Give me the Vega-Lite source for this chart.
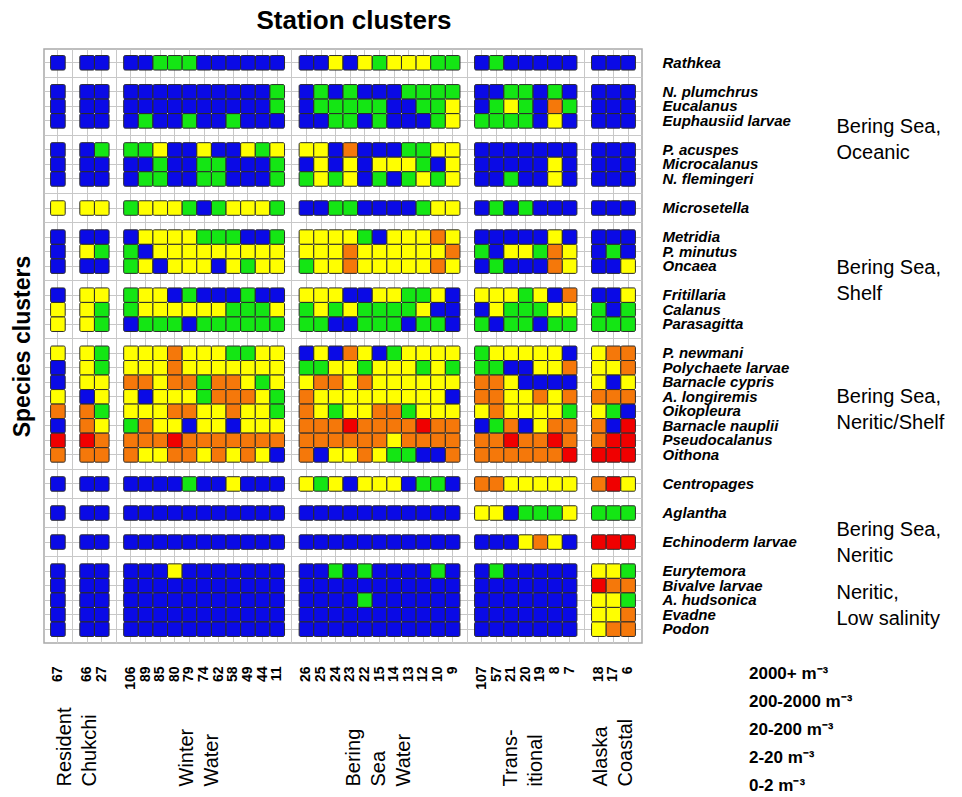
{
"$schema": "https://vega.github.io/schema/vega-lite/v6.json",
"autosize": {"type": "none"},
"padding": {"left": 44, "top": 49, "right": 320, "bottom": 154},
"width": 598,
"height": 594,
"config": {"font": "Liberation Sans", "view": {"stroke": "#a9a9a9", "strokeWidth": 1.5}},
"title": {"text": "Station clusters", "fontSize": 26, "fontWeight": "bold", "color": "black", "anchor": "middle", "frame": "group", "offset": 15, "dx": 11},
"data": {"values": [
{"sp":"Rathkea","st":"67","d":"0-2"},{"sp":"Rathkea","st":"66","d":"0-2"},{"sp":"Rathkea","st":"27","d":"0-2"},
{"sp":"Rathkea","st":"106","d":"0-2"},{"sp":"Rathkea","st":"89","d":"0-2"},{"sp":"Rathkea","st":"85","d":"2-20"},{"sp":"Rathkea","st":"80","d":"2-20"},{"sp":"Rathkea","st":"79","d":"2-20"},{"sp":"Rathkea","st":"74","d":"0-2"},{"sp":"Rathkea","st":"62","d":"0-2"},{"sp":"Rathkea","st":"58","d":"0-2"},{"sp":"Rathkea","st":"49","d":"0-2"},{"sp":"Rathkea","st":"44","d":"0-2"},{"sp":"Rathkea","st":"11","d":"0-2"},
{"sp":"Rathkea","st":"26","d":"0-2"},{"sp":"Rathkea","st":"25","d":"0-2"},{"sp":"Rathkea","st":"24","d":"20-200"},{"sp":"Rathkea","st":"23","d":"0-2"},{"sp":"Rathkea","st":"22","d":"20-200"},{"sp":"Rathkea","st":"15","d":"2-20"},{"sp":"Rathkea","st":"14","d":"20-200"},{"sp":"Rathkea","st":"13","d":"20-200"},{"sp":"Rathkea","st":"12","d":"20-200"},{"sp":"Rathkea","st":"10","d":"2-20"},{"sp":"Rathkea","st":"9","d":"2-20"},
{"sp":"Rathkea","st":"107","d":"0-2"},{"sp":"Rathkea","st":"57","d":"2-20"},{"sp":"Rathkea","st":"21","d":"0-2"},{"sp":"Rathkea","st":"20","d":"0-2"},{"sp":"Rathkea","st":"19","d":"0-2"},{"sp":"Rathkea","st":"8","d":"0-2"},{"sp":"Rathkea","st":"7","d":"0-2"},
{"sp":"Rathkea","st":"18","d":"0-2"},{"sp":"Rathkea","st":"17","d":"0-2"},{"sp":"Rathkea","st":"6","d":"0-2"},

{"sp":"N. plumchrus","st":"67","d":"0-2"},{"sp":"N. plumchrus","st":"66","d":"0-2"},{"sp":"N. plumchrus","st":"27","d":"0-2"},
{"sp":"N. plumchrus","st":"106","d":"0-2"},{"sp":"N. plumchrus","st":"89","d":"0-2"},{"sp":"N. plumchrus","st":"85","d":"0-2"},{"sp":"N. plumchrus","st":"80","d":"0-2"},{"sp":"N. plumchrus","st":"79","d":"0-2"},{"sp":"N. plumchrus","st":"74","d":"0-2"},{"sp":"N. plumchrus","st":"62","d":"0-2"},{"sp":"N. plumchrus","st":"58","d":"0-2"},{"sp":"N. plumchrus","st":"49","d":"0-2"},{"sp":"N. plumchrus","st":"44","d":"0-2"},{"sp":"N. plumchrus","st":"11","d":"2-20"},
{"sp":"N. plumchrus","st":"26","d":"0-2"},{"sp":"N. plumchrus","st":"25","d":"2-20"},{"sp":"N. plumchrus","st":"24","d":"0-2"},{"sp":"N. plumchrus","st":"23","d":"2-20"},{"sp":"N. plumchrus","st":"22","d":"0-2"},{"sp":"N. plumchrus","st":"15","d":"0-2"},{"sp":"N. plumchrus","st":"14","d":"0-2"},{"sp":"N. plumchrus","st":"13","d":"2-20"},{"sp":"N. plumchrus","st":"12","d":"2-20"},{"sp":"N. plumchrus","st":"10","d":"2-20"},{"sp":"N. plumchrus","st":"9","d":"2-20"},
{"sp":"N. plumchrus","st":"107","d":"0-2"},{"sp":"N. plumchrus","st":"57","d":"0-2"},{"sp":"N. plumchrus","st":"21","d":"2-20"},{"sp":"N. plumchrus","st":"20","d":"2-20"},{"sp":"N. plumchrus","st":"19","d":"0-2"},{"sp":"N. plumchrus","st":"8","d":"2-20"},{"sp":"N. plumchrus","st":"7","d":"0-2"},
{"sp":"N. plumchrus","st":"18","d":"0-2"},{"sp":"N. plumchrus","st":"17","d":"0-2"},{"sp":"N. plumchrus","st":"6","d":"0-2"},

{"sp":"Eucalanus","st":"67","d":"0-2"},{"sp":"Eucalanus","st":"66","d":"0-2"},{"sp":"Eucalanus","st":"27","d":"0-2"},
{"sp":"Eucalanus","st":"106","d":"0-2"},{"sp":"Eucalanus","st":"89","d":"0-2"},{"sp":"Eucalanus","st":"85","d":"0-2"},{"sp":"Eucalanus","st":"80","d":"0-2"},{"sp":"Eucalanus","st":"79","d":"0-2"},{"sp":"Eucalanus","st":"74","d":"0-2"},{"sp":"Eucalanus","st":"62","d":"0-2"},{"sp":"Eucalanus","st":"58","d":"0-2"},{"sp":"Eucalanus","st":"49","d":"0-2"},{"sp":"Eucalanus","st":"44","d":"0-2"},{"sp":"Eucalanus","st":"11","d":"2-20"},
{"sp":"Eucalanus","st":"26","d":"0-2"},{"sp":"Eucalanus","st":"25","d":"2-20"},{"sp":"Eucalanus","st":"24","d":"2-20"},{"sp":"Eucalanus","st":"23","d":"2-20"},{"sp":"Eucalanus","st":"22","d":"2-20"},{"sp":"Eucalanus","st":"15","d":"2-20"},{"sp":"Eucalanus","st":"14","d":"0-2"},{"sp":"Eucalanus","st":"13","d":"0-2"},{"sp":"Eucalanus","st":"12","d":"2-20"},{"sp":"Eucalanus","st":"10","d":"2-20"},{"sp":"Eucalanus","st":"9","d":"20-200"},
{"sp":"Eucalanus","st":"107","d":"0-2"},{"sp":"Eucalanus","st":"57","d":"2-20"},{"sp":"Eucalanus","st":"21","d":"20-200"},{"sp":"Eucalanus","st":"20","d":"2-20"},{"sp":"Eucalanus","st":"19","d":"0-2"},{"sp":"Eucalanus","st":"8","d":"200-2000"},{"sp":"Eucalanus","st":"7","d":"2-20"},
{"sp":"Eucalanus","st":"18","d":"0-2"},{"sp":"Eucalanus","st":"17","d":"0-2"},{"sp":"Eucalanus","st":"6","d":"0-2"},

{"sp":"Euphausiid larvae","st":"67","d":"0-2"},{"sp":"Euphausiid larvae","st":"66","d":"0-2"},{"sp":"Euphausiid larvae","st":"27","d":"0-2"},
{"sp":"Euphausiid larvae","st":"106","d":"0-2"},{"sp":"Euphausiid larvae","st":"89","d":"2-20"},{"sp":"Euphausiid larvae","st":"85","d":"0-2"},{"sp":"Euphausiid larvae","st":"80","d":"0-2"},{"sp":"Euphausiid larvae","st":"79","d":"2-20"},{"sp":"Euphausiid larvae","st":"74","d":"0-2"},{"sp":"Euphausiid larvae","st":"62","d":"0-2"},{"sp":"Euphausiid larvae","st":"58","d":"2-20"},{"sp":"Euphausiid larvae","st":"49","d":"0-2"},{"sp":"Euphausiid larvae","st":"44","d":"0-2"},{"sp":"Euphausiid larvae","st":"11","d":"0-2"},
{"sp":"Euphausiid larvae","st":"26","d":"0-2"},{"sp":"Euphausiid larvae","st":"25","d":"0-2"},{"sp":"Euphausiid larvae","st":"24","d":"2-20"},{"sp":"Euphausiid larvae","st":"23","d":"2-20"},{"sp":"Euphausiid larvae","st":"22","d":"0-2"},{"sp":"Euphausiid larvae","st":"15","d":"2-20"},{"sp":"Euphausiid larvae","st":"14","d":"0-2"},{"sp":"Euphausiid larvae","st":"13","d":"0-2"},{"sp":"Euphausiid larvae","st":"12","d":"0-2"},{"sp":"Euphausiid larvae","st":"10","d":"2-20"},{"sp":"Euphausiid larvae","st":"9","d":"20-200"},
{"sp":"Euphausiid larvae","st":"107","d":"2-20"},{"sp":"Euphausiid larvae","st":"57","d":"2-20"},{"sp":"Euphausiid larvae","st":"21","d":"2-20"},{"sp":"Euphausiid larvae","st":"20","d":"2-20"},{"sp":"Euphausiid larvae","st":"19","d":"0-2"},{"sp":"Euphausiid larvae","st":"8","d":"20-200"},{"sp":"Euphausiid larvae","st":"7","d":"0-2"},
{"sp":"Euphausiid larvae","st":"18","d":"0-2"},{"sp":"Euphausiid larvae","st":"17","d":"0-2"},{"sp":"Euphausiid larvae","st":"6","d":"0-2"},

{"sp":"P. acuspes","st":"67","d":"0-2"},{"sp":"P. acuspes","st":"66","d":"0-2"},{"sp":"P. acuspes","st":"27","d":"2-20"},
{"sp":"P. acuspes","st":"106","d":"2-20"},{"sp":"P. acuspes","st":"89","d":"2-20"},{"sp":"P. acuspes","st":"85","d":"20-200"},{"sp":"P. acuspes","st":"80","d":"0-2"},{"sp":"P. acuspes","st":"79","d":"0-2"},{"sp":"P. acuspes","st":"74","d":"20-200"},{"sp":"P. acuspes","st":"62","d":"0-2"},{"sp":"P. acuspes","st":"58","d":"0-2"},{"sp":"P. acuspes","st":"49","d":"20-200"},{"sp":"P. acuspes","st":"44","d":"2-20"},{"sp":"P. acuspes","st":"11","d":"20-200"},
{"sp":"P. acuspes","st":"26","d":"20-200"},{"sp":"P. acuspes","st":"25","d":"20-200"},{"sp":"P. acuspes","st":"24","d":"0-2"},{"sp":"P. acuspes","st":"23","d":"200-2000"},{"sp":"P. acuspes","st":"22","d":"0-2"},{"sp":"P. acuspes","st":"15","d":"0-2"},{"sp":"P. acuspes","st":"14","d":"0-2"},{"sp":"P. acuspes","st":"13","d":"2-20"},{"sp":"P. acuspes","st":"12","d":"2-20"},{"sp":"P. acuspes","st":"10","d":"20-200"},{"sp":"P. acuspes","st":"9","d":"20-200"},
{"sp":"P. acuspes","st":"107","d":"0-2"},{"sp":"P. acuspes","st":"57","d":"0-2"},{"sp":"P. acuspes","st":"21","d":"0-2"},{"sp":"P. acuspes","st":"20","d":"0-2"},{"sp":"P. acuspes","st":"19","d":"0-2"},{"sp":"P. acuspes","st":"8","d":"0-2"},{"sp":"P. acuspes","st":"7","d":"0-2"},
{"sp":"P. acuspes","st":"18","d":"0-2"},{"sp":"P. acuspes","st":"17","d":"0-2"},{"sp":"P. acuspes","st":"6","d":"0-2"},

{"sp":"Microcalanus","st":"67","d":"0-2"},{"sp":"Microcalanus","st":"66","d":"0-2"},{"sp":"Microcalanus","st":"27","d":"0-2"},
{"sp":"Microcalanus","st":"106","d":"0-2"},{"sp":"Microcalanus","st":"89","d":"0-2"},{"sp":"Microcalanus","st":"85","d":"2-20"},{"sp":"Microcalanus","st":"80","d":"0-2"},{"sp":"Microcalanus","st":"79","d":"0-2"},{"sp":"Microcalanus","st":"74","d":"2-20"},{"sp":"Microcalanus","st":"62","d":"2-20"},{"sp":"Microcalanus","st":"58","d":"0-2"},{"sp":"Microcalanus","st":"49","d":"0-2"},{"sp":"Microcalanus","st":"44","d":"0-2"},{"sp":"Microcalanus","st":"11","d":"2-20"},
{"sp":"Microcalanus","st":"26","d":"0-2"},{"sp":"Microcalanus","st":"25","d":"20-200"},{"sp":"Microcalanus","st":"24","d":"0-2"},{"sp":"Microcalanus","st":"23","d":"20-200"},{"sp":"Microcalanus","st":"22","d":"0-2"},{"sp":"Microcalanus","st":"15","d":"20-200"},{"sp":"Microcalanus","st":"14","d":"20-200"},{"sp":"Microcalanus","st":"13","d":"20-200"},{"sp":"Microcalanus","st":"12","d":"2-20"},{"sp":"Microcalanus","st":"10","d":"0-2"},{"sp":"Microcalanus","st":"9","d":"20-200"},
{"sp":"Microcalanus","st":"107","d":"0-2"},{"sp":"Microcalanus","st":"57","d":"0-2"},{"sp":"Microcalanus","st":"21","d":"0-2"},{"sp":"Microcalanus","st":"20","d":"0-2"},{"sp":"Microcalanus","st":"19","d":"0-2"},{"sp":"Microcalanus","st":"8","d":"20-200"},{"sp":"Microcalanus","st":"7","d":"0-2"},
{"sp":"Microcalanus","st":"18","d":"0-2"},{"sp":"Microcalanus","st":"17","d":"0-2"},{"sp":"Microcalanus","st":"6","d":"0-2"},

{"sp":"N. flemingeri","st":"67","d":"0-2"},{"sp":"N. flemingeri","st":"66","d":"0-2"},{"sp":"N. flemingeri","st":"27","d":"0-2"},
{"sp":"N. flemingeri","st":"106","d":"0-2"},{"sp":"N. flemingeri","st":"89","d":"2-20"},{"sp":"N. flemingeri","st":"85","d":"2-20"},{"sp":"N. flemingeri","st":"80","d":"0-2"},{"sp":"N. flemingeri","st":"79","d":"0-2"},{"sp":"N. flemingeri","st":"74","d":"2-20"},{"sp":"N. flemingeri","st":"62","d":"2-20"},{"sp":"N. flemingeri","st":"58","d":"0-2"},{"sp":"N. flemingeri","st":"49","d":"0-2"},{"sp":"N. flemingeri","st":"44","d":"0-2"},{"sp":"N. flemingeri","st":"11","d":"2-20"},
{"sp":"N. flemingeri","st":"26","d":"2-20"},{"sp":"N. flemingeri","st":"25","d":"20-200"},{"sp":"N. flemingeri","st":"24","d":"2-20"},{"sp":"N. flemingeri","st":"23","d":"20-200"},{"sp":"N. flemingeri","st":"22","d":"0-2"},{"sp":"N. flemingeri","st":"15","d":"2-20"},{"sp":"N. flemingeri","st":"14","d":"0-2"},{"sp":"N. flemingeri","st":"13","d":"2-20"},{"sp":"N. flemingeri","st":"12","d":"20-200"},{"sp":"N. flemingeri","st":"10","d":"2-20"},{"sp":"N. flemingeri","st":"9","d":"20-200"},
{"sp":"N. flemingeri","st":"107","d":"0-2"},{"sp":"N. flemingeri","st":"57","d":"0-2"},{"sp":"N. flemingeri","st":"21","d":"2-20"},{"sp":"N. flemingeri","st":"20","d":"0-2"},{"sp":"N. flemingeri","st":"19","d":"0-2"},{"sp":"N. flemingeri","st":"8","d":"20-200"},{"sp":"N. flemingeri","st":"7","d":"0-2"},
{"sp":"N. flemingeri","st":"18","d":"0-2"},{"sp":"N. flemingeri","st":"17","d":"0-2"},{"sp":"N. flemingeri","st":"6","d":"0-2"},

{"sp":"Microsetella","st":"67","d":"20-200"},{"sp":"Microsetella","st":"66","d":"20-200"},{"sp":"Microsetella","st":"27","d":"20-200"},
{"sp":"Microsetella","st":"106","d":"2-20"},{"sp":"Microsetella","st":"89","d":"20-200"},{"sp":"Microsetella","st":"85","d":"20-200"},{"sp":"Microsetella","st":"80","d":"20-200"},{"sp":"Microsetella","st":"79","d":"2-20"},{"sp":"Microsetella","st":"74","d":"0-2"},{"sp":"Microsetella","st":"62","d":"2-20"},{"sp":"Microsetella","st":"58","d":"20-200"},{"sp":"Microsetella","st":"49","d":"20-200"},{"sp":"Microsetella","st":"44","d":"20-200"},{"sp":"Microsetella","st":"11","d":"2-20"},
{"sp":"Microsetella","st":"26","d":"0-2"},{"sp":"Microsetella","st":"25","d":"0-2"},{"sp":"Microsetella","st":"24","d":"2-20"},{"sp":"Microsetella","st":"23","d":"2-20"},{"sp":"Microsetella","st":"22","d":"0-2"},{"sp":"Microsetella","st":"15","d":"0-2"},{"sp":"Microsetella","st":"14","d":"0-2"},{"sp":"Microsetella","st":"13","d":"0-2"},{"sp":"Microsetella","st":"12","d":"2-20"},{"sp":"Microsetella","st":"10","d":"20-200"},{"sp":"Microsetella","st":"9","d":"20-200"},
{"sp":"Microsetella","st":"107","d":"0-2"},{"sp":"Microsetella","st":"57","d":"2-20"},{"sp":"Microsetella","st":"21","d":"0-2"},{"sp":"Microsetella","st":"20","d":"2-20"},{"sp":"Microsetella","st":"19","d":"0-2"},{"sp":"Microsetella","st":"8","d":"0-2"},{"sp":"Microsetella","st":"7","d":"0-2"},
{"sp":"Microsetella","st":"18","d":"0-2"},{"sp":"Microsetella","st":"17","d":"0-2"},{"sp":"Microsetella","st":"6","d":"0-2"},

{"sp":"Metridia","st":"67","d":"0-2"},{"sp":"Metridia","st":"66","d":"0-2"},{"sp":"Metridia","st":"27","d":"0-2"},
{"sp":"Metridia","st":"106","d":"0-2"},{"sp":"Metridia","st":"89","d":"20-200"},{"sp":"Metridia","st":"85","d":"20-200"},{"sp":"Metridia","st":"80","d":"20-200"},{"sp":"Metridia","st":"79","d":"20-200"},{"sp":"Metridia","st":"74","d":"2-20"},{"sp":"Metridia","st":"62","d":"2-20"},{"sp":"Metridia","st":"58","d":"2-20"},{"sp":"Metridia","st":"49","d":"0-2"},{"sp":"Metridia","st":"44","d":"0-2"},{"sp":"Metridia","st":"11","d":"2-20"},
{"sp":"Metridia","st":"26","d":"20-200"},{"sp":"Metridia","st":"25","d":"20-200"},{"sp":"Metridia","st":"24","d":"20-200"},{"sp":"Metridia","st":"23","d":"20-200"},{"sp":"Metridia","st":"22","d":"2-20"},{"sp":"Metridia","st":"15","d":"0-2"},{"sp":"Metridia","st":"14","d":"20-200"},{"sp":"Metridia","st":"13","d":"20-200"},{"sp":"Metridia","st":"12","d":"20-200"},{"sp":"Metridia","st":"10","d":"200-2000"},{"sp":"Metridia","st":"9","d":"20-200"},
{"sp":"Metridia","st":"107","d":"0-2"},{"sp":"Metridia","st":"57","d":"0-2"},{"sp":"Metridia","st":"21","d":"0-2"},{"sp":"Metridia","st":"20","d":"0-2"},{"sp":"Metridia","st":"19","d":"0-2"},{"sp":"Metridia","st":"8","d":"20-200"},{"sp":"Metridia","st":"7","d":"0-2"},
{"sp":"Metridia","st":"18","d":"0-2"},{"sp":"Metridia","st":"17","d":"0-2"},{"sp":"Metridia","st":"6","d":"0-2"},

{"sp":"P. minutus","st":"67","d":"0-2"},{"sp":"P. minutus","st":"66","d":"20-200"},{"sp":"P. minutus","st":"27","d":"2-20"},
{"sp":"P. minutus","st":"106","d":"2-20"},{"sp":"P. minutus","st":"89","d":"0-2"},{"sp":"P. minutus","st":"85","d":"20-200"},{"sp":"P. minutus","st":"80","d":"20-200"},{"sp":"P. minutus","st":"79","d":"20-200"},{"sp":"P. minutus","st":"74","d":"20-200"},{"sp":"P. minutus","st":"62","d":"20-200"},{"sp":"P. minutus","st":"58","d":"20-200"},{"sp":"P. minutus","st":"49","d":"20-200"},{"sp":"P. minutus","st":"44","d":"20-200"},{"sp":"P. minutus","st":"11","d":"20-200"},
{"sp":"P. minutus","st":"26","d":"20-200"},{"sp":"P. minutus","st":"25","d":"20-200"},{"sp":"P. minutus","st":"24","d":"20-200"},{"sp":"P. minutus","st":"23","d":"200-2000"},{"sp":"P. minutus","st":"22","d":"20-200"},{"sp":"P. minutus","st":"15","d":"20-200"},{"sp":"P. minutus","st":"14","d":"20-200"},{"sp":"P. minutus","st":"13","d":"20-200"},{"sp":"P. minutus","st":"12","d":"20-200"},{"sp":"P. minutus","st":"10","d":"20-200"},{"sp":"P. minutus","st":"9","d":"200-2000"},
{"sp":"P. minutus","st":"107","d":"2-20"},{"sp":"P. minutus","st":"57","d":"0-2"},{"sp":"P. minutus","st":"21","d":"20-200"},{"sp":"P. minutus","st":"20","d":"20-200"},{"sp":"P. minutus","st":"19","d":"2-20"},{"sp":"P. minutus","st":"8","d":"200-2000"},{"sp":"P. minutus","st":"7","d":"20-200"},
{"sp":"P. minutus","st":"18","d":"0-2"},{"sp":"P. minutus","st":"17","d":"2-20"},{"sp":"P. minutus","st":"6","d":"0-2"},

{"sp":"Oncaea","st":"67","d":"0-2"},{"sp":"Oncaea","st":"66","d":"0-2"},{"sp":"Oncaea","st":"27","d":"0-2"},
{"sp":"Oncaea","st":"106","d":"2-20"},{"sp":"Oncaea","st":"89","d":"20-200"},{"sp":"Oncaea","st":"85","d":"0-2"},{"sp":"Oncaea","st":"80","d":"20-200"},{"sp":"Oncaea","st":"79","d":"20-200"},{"sp":"Oncaea","st":"74","d":"20-200"},{"sp":"Oncaea","st":"62","d":"0-2"},{"sp":"Oncaea","st":"58","d":"20-200"},{"sp":"Oncaea","st":"49","d":"2-20"},{"sp":"Oncaea","st":"44","d":"20-200"},{"sp":"Oncaea","st":"11","d":"20-200"},
{"sp":"Oncaea","st":"26","d":"2-20"},{"sp":"Oncaea","st":"25","d":"20-200"},{"sp":"Oncaea","st":"24","d":"20-200"},{"sp":"Oncaea","st":"23","d":"200-2000"},{"sp":"Oncaea","st":"22","d":"20-200"},{"sp":"Oncaea","st":"15","d":"20-200"},{"sp":"Oncaea","st":"14","d":"20-200"},{"sp":"Oncaea","st":"13","d":"20-200"},{"sp":"Oncaea","st":"12","d":"20-200"},{"sp":"Oncaea","st":"10","d":"200-2000"},{"sp":"Oncaea","st":"9","d":"20-200"},
{"sp":"Oncaea","st":"107","d":"0-2"},{"sp":"Oncaea","st":"57","d":"2-20"},{"sp":"Oncaea","st":"21","d":"0-2"},{"sp":"Oncaea","st":"20","d":"0-2"},{"sp":"Oncaea","st":"19","d":"0-2"},{"sp":"Oncaea","st":"8","d":"200-2000"},{"sp":"Oncaea","st":"7","d":"20-200"},
{"sp":"Oncaea","st":"18","d":"0-2"},{"sp":"Oncaea","st":"17","d":"0-2"},{"sp":"Oncaea","st":"6","d":"20-200"},

{"sp":"Fritillaria","st":"67","d":"0-2"},{"sp":"Fritillaria","st":"66","d":"20-200"},{"sp":"Fritillaria","st":"27","d":"20-200"},
{"sp":"Fritillaria","st":"106","d":"2-20"},{"sp":"Fritillaria","st":"89","d":"20-200"},{"sp":"Fritillaria","st":"85","d":"20-200"},{"sp":"Fritillaria","st":"80","d":"0-2"},{"sp":"Fritillaria","st":"79","d":"2-20"},{"sp":"Fritillaria","st":"74","d":"0-2"},{"sp":"Fritillaria","st":"62","d":"0-2"},{"sp":"Fritillaria","st":"58","d":"0-2"},{"sp":"Fritillaria","st":"49","d":"2-20"},{"sp":"Fritillaria","st":"44","d":"0-2"},{"sp":"Fritillaria","st":"11","d":"0-2"},
{"sp":"Fritillaria","st":"26","d":"20-200"},{"sp":"Fritillaria","st":"25","d":"20-200"},{"sp":"Fritillaria","st":"24","d":"20-200"},{"sp":"Fritillaria","st":"23","d":"0-2"},{"sp":"Fritillaria","st":"22","d":"0-2"},{"sp":"Fritillaria","st":"15","d":"20-200"},{"sp":"Fritillaria","st":"14","d":"20-200"},{"sp":"Fritillaria","st":"13","d":"2-20"},{"sp":"Fritillaria","st":"12","d":"2-20"},{"sp":"Fritillaria","st":"10","d":"20-200"},{"sp":"Fritillaria","st":"9","d":"0-2"},
{"sp":"Fritillaria","st":"107","d":"20-200"},{"sp":"Fritillaria","st":"57","d":"20-200"},{"sp":"Fritillaria","st":"21","d":"20-200"},{"sp":"Fritillaria","st":"20","d":"2-20"},{"sp":"Fritillaria","st":"19","d":"20-200"},{"sp":"Fritillaria","st":"8","d":"0-2"},{"sp":"Fritillaria","st":"7","d":"200-2000"},
{"sp":"Fritillaria","st":"18","d":"0-2"},{"sp":"Fritillaria","st":"17","d":"0-2"},{"sp":"Fritillaria","st":"6","d":"20-200"},

{"sp":"Calanus","st":"67","d":"20-200"},{"sp":"Calanus","st":"66","d":"20-200"},{"sp":"Calanus","st":"27","d":"2-20"},
{"sp":"Calanus","st":"106","d":"2-20"},{"sp":"Calanus","st":"89","d":"20-200"},{"sp":"Calanus","st":"85","d":"20-200"},{"sp":"Calanus","st":"80","d":"20-200"},{"sp":"Calanus","st":"79","d":"20-200"},{"sp":"Calanus","st":"74","d":"20-200"},{"sp":"Calanus","st":"62","d":"20-200"},{"sp":"Calanus","st":"58","d":"2-20"},{"sp":"Calanus","st":"49","d":"2-20"},{"sp":"Calanus","st":"44","d":"2-20"},{"sp":"Calanus","st":"11","d":"20-200"},
{"sp":"Calanus","st":"26","d":"2-20"},{"sp":"Calanus","st":"25","d":"20-200"},{"sp":"Calanus","st":"24","d":"2-20"},{"sp":"Calanus","st":"23","d":"20-200"},{"sp":"Calanus","st":"22","d":"2-20"},{"sp":"Calanus","st":"15","d":"2-20"},{"sp":"Calanus","st":"14","d":"2-20"},{"sp":"Calanus","st":"13","d":"2-20"},{"sp":"Calanus","st":"12","d":"20-200"},{"sp":"Calanus","st":"10","d":"0-2"},{"sp":"Calanus","st":"9","d":"0-2"},
{"sp":"Calanus","st":"107","d":"0-2"},{"sp":"Calanus","st":"57","d":"20-200"},{"sp":"Calanus","st":"21","d":"2-20"},{"sp":"Calanus","st":"20","d":"2-20"},{"sp":"Calanus","st":"19","d":"2-20"},{"sp":"Calanus","st":"8","d":"20-200"},{"sp":"Calanus","st":"7","d":"20-200"},
{"sp":"Calanus","st":"18","d":"2-20"},{"sp":"Calanus","st":"17","d":"0-2"},{"sp":"Calanus","st":"6","d":"2-20"},

{"sp":"Parasagitta","st":"67","d":"20-200"},{"sp":"Parasagitta","st":"66","d":"20-200"},{"sp":"Parasagitta","st":"27","d":"2-20"},
{"sp":"Parasagitta","st":"106","d":"0-2"},{"sp":"Parasagitta","st":"89","d":"2-20"},{"sp":"Parasagitta","st":"85","d":"2-20"},{"sp":"Parasagitta","st":"80","d":"2-20"},{"sp":"Parasagitta","st":"79","d":"0-2"},{"sp":"Parasagitta","st":"74","d":"2-20"},{"sp":"Parasagitta","st":"62","d":"2-20"},{"sp":"Parasagitta","st":"58","d":"2-20"},{"sp":"Parasagitta","st":"49","d":"2-20"},{"sp":"Parasagitta","st":"44","d":"2-20"},{"sp":"Parasagitta","st":"11","d":"2-20"},
{"sp":"Parasagitta","st":"26","d":"2-20"},{"sp":"Parasagitta","st":"25","d":"2-20"},{"sp":"Parasagitta","st":"24","d":"0-2"},{"sp":"Parasagitta","st":"23","d":"0-2"},{"sp":"Parasagitta","st":"22","d":"2-20"},{"sp":"Parasagitta","st":"15","d":"2-20"},{"sp":"Parasagitta","st":"14","d":"2-20"},{"sp":"Parasagitta","st":"13","d":"0-2"},{"sp":"Parasagitta","st":"12","d":"2-20"},{"sp":"Parasagitta","st":"10","d":"2-20"},{"sp":"Parasagitta","st":"9","d":"0-2"},
{"sp":"Parasagitta","st":"107","d":"2-20"},{"sp":"Parasagitta","st":"57","d":"0-2"},{"sp":"Parasagitta","st":"21","d":"2-20"},{"sp":"Parasagitta","st":"20","d":"2-20"},{"sp":"Parasagitta","st":"19","d":"0-2"},{"sp":"Parasagitta","st":"8","d":"2-20"},{"sp":"Parasagitta","st":"7","d":"2-20"},
{"sp":"Parasagitta","st":"18","d":"2-20"},{"sp":"Parasagitta","st":"17","d":"2-20"},{"sp":"Parasagitta","st":"6","d":"2-20"},

{"sp":"P. newmani","st":"67","d":"20-200"},{"sp":"P. newmani","st":"66","d":"20-200"},{"sp":"P. newmani","st":"27","d":"2-20"},
{"sp":"P. newmani","st":"106","d":"20-200"},{"sp":"P. newmani","st":"89","d":"20-200"},{"sp":"P. newmani","st":"85","d":"20-200"},{"sp":"P. newmani","st":"80","d":"200-2000"},{"sp":"P. newmani","st":"79","d":"20-200"},{"sp":"P. newmani","st":"74","d":"20-200"},{"sp":"P. newmani","st":"62","d":"20-200"},{"sp":"P. newmani","st":"58","d":"2-20"},{"sp":"P. newmani","st":"49","d":"2-20"},{"sp":"P. newmani","st":"44","d":"20-200"},{"sp":"P. newmani","st":"11","d":"20-200"},
{"sp":"P. newmani","st":"26","d":"0-2"},{"sp":"P. newmani","st":"25","d":"20-200"},{"sp":"P. newmani","st":"24","d":"0-2"},{"sp":"P. newmani","st":"23","d":"200-2000"},{"sp":"P. newmani","st":"22","d":"20-200"},{"sp":"P. newmani","st":"15","d":"0-2"},{"sp":"P. newmani","st":"14","d":"2-20"},{"sp":"P. newmani","st":"13","d":"20-200"},{"sp":"P. newmani","st":"12","d":"20-200"},{"sp":"P. newmani","st":"10","d":"20-200"},{"sp":"P. newmani","st":"9","d":"20-200"},
{"sp":"P. newmani","st":"107","d":"2-20"},{"sp":"P. newmani","st":"57","d":"20-200"},{"sp":"P. newmani","st":"21","d":"20-200"},{"sp":"P. newmani","st":"20","d":"20-200"},{"sp":"P. newmani","st":"19","d":"20-200"},{"sp":"P. newmani","st":"8","d":"20-200"},{"sp":"P. newmani","st":"7","d":"0-2"},
{"sp":"P. newmani","st":"18","d":"20-200"},{"sp":"P. newmani","st":"17","d":"200-2000"},{"sp":"P. newmani","st":"6","d":"200-2000"},

{"sp":"Polychaete larvae","st":"67","d":"0-2"},{"sp":"Polychaete larvae","st":"66","d":"20-200"},{"sp":"Polychaete larvae","st":"27","d":"2-20"},
{"sp":"Polychaete larvae","st":"106","d":"20-200"},{"sp":"Polychaete larvae","st":"89","d":"20-200"},{"sp":"Polychaete larvae","st":"85","d":"20-200"},{"sp":"Polychaete larvae","st":"80","d":"200-2000"},{"sp":"Polychaete larvae","st":"79","d":"20-200"},{"sp":"Polychaete larvae","st":"74","d":"20-200"},{"sp":"Polychaete larvae","st":"62","d":"20-200"},{"sp":"Polychaete larvae","st":"58","d":"20-200"},{"sp":"Polychaete larvae","st":"49","d":"20-200"},{"sp":"Polychaete larvae","st":"44","d":"20-200"},{"sp":"Polychaete larvae","st":"11","d":"20-200"},
{"sp":"Polychaete larvae","st":"26","d":"2-20"},{"sp":"Polychaete larvae","st":"25","d":"2-20"},{"sp":"Polychaete larvae","st":"24","d":"20-200"},{"sp":"Polychaete larvae","st":"23","d":"20-200"},{"sp":"Polychaete larvae","st":"22","d":"2-20"},{"sp":"Polychaete larvae","st":"15","d":"20-200"},{"sp":"Polychaete larvae","st":"14","d":"20-200"},{"sp":"Polychaete larvae","st":"13","d":"20-200"},{"sp":"Polychaete larvae","st":"12","d":"2-20"},{"sp":"Polychaete larvae","st":"10","d":"20-200"},{"sp":"Polychaete larvae","st":"9","d":"2-20"},
{"sp":"Polychaete larvae","st":"107","d":"2-20"},{"sp":"Polychaete larvae","st":"57","d":"2-20"},{"sp":"Polychaete larvae","st":"21","d":"0-2"},{"sp":"Polychaete larvae","st":"20","d":"0-2"},{"sp":"Polychaete larvae","st":"19","d":"20-200"},{"sp":"Polychaete larvae","st":"8","d":"20-200"},{"sp":"Polychaete larvae","st":"7","d":"200-2000"},
{"sp":"Polychaete larvae","st":"18","d":"20-200"},{"sp":"Polychaete larvae","st":"17","d":"20-200"},{"sp":"Polychaete larvae","st":"6","d":"200-2000"},

{"sp":"Barnacle cypris","st":"67","d":"0-2"},{"sp":"Barnacle cypris","st":"66","d":"20-200"},{"sp":"Barnacle cypris","st":"27","d":"20-200"},
{"sp":"Barnacle cypris","st":"106","d":"200-2000"},{"sp":"Barnacle cypris","st":"89","d":"200-2000"},{"sp":"Barnacle cypris","st":"85","d":"20-200"},{"sp":"Barnacle cypris","st":"80","d":"200-2000"},{"sp":"Barnacle cypris","st":"79","d":"200-2000"},{"sp":"Barnacle cypris","st":"74","d":"2-20"},{"sp":"Barnacle cypris","st":"62","d":"200-2000"},{"sp":"Barnacle cypris","st":"58","d":"200-2000"},{"sp":"Barnacle cypris","st":"49","d":"20-200"},{"sp":"Barnacle cypris","st":"44","d":"2-20"},{"sp":"Barnacle cypris","st":"11","d":"20-200"},
{"sp":"Barnacle cypris","st":"26","d":"20-200"},{"sp":"Barnacle cypris","st":"25","d":"200-2000"},{"sp":"Barnacle cypris","st":"24","d":"200-2000"},{"sp":"Barnacle cypris","st":"23","d":"20-200"},{"sp":"Barnacle cypris","st":"22","d":"200-2000"},{"sp":"Barnacle cypris","st":"15","d":"20-200"},{"sp":"Barnacle cypris","st":"14","d":"20-200"},{"sp":"Barnacle cypris","st":"13","d":"20-200"},{"sp":"Barnacle cypris","st":"12","d":"20-200"},{"sp":"Barnacle cypris","st":"10","d":"20-200"},{"sp":"Barnacle cypris","st":"9","d":"20-200"},
{"sp":"Barnacle cypris","st":"107","d":"200-2000"},{"sp":"Barnacle cypris","st":"57","d":"200-2000"},{"sp":"Barnacle cypris","st":"21","d":"20-200"},{"sp":"Barnacle cypris","st":"20","d":"0-2"},{"sp":"Barnacle cypris","st":"19","d":"0-2"},{"sp":"Barnacle cypris","st":"8","d":"0-2"},{"sp":"Barnacle cypris","st":"7","d":"0-2"},
{"sp":"Barnacle cypris","st":"18","d":"20-200"},{"sp":"Barnacle cypris","st":"17","d":"0-2"},{"sp":"Barnacle cypris","st":"6","d":"20-200"},

{"sp":"A. longiremis","st":"67","d":"20-200"},{"sp":"A. longiremis","st":"66","d":"0-2"},{"sp":"A. longiremis","st":"27","d":"20-200"},
{"sp":"A. longiremis","st":"106","d":"20-200"},{"sp":"A. longiremis","st":"89","d":"0-2"},{"sp":"A. longiremis","st":"85","d":"20-200"},{"sp":"A. longiremis","st":"80","d":"20-200"},{"sp":"A. longiremis","st":"79","d":"20-200"},{"sp":"A. longiremis","st":"74","d":"2-20"},{"sp":"A. longiremis","st":"62","d":"200-2000"},{"sp":"A. longiremis","st":"58","d":"200-2000"},{"sp":"A. longiremis","st":"49","d":"200-2000"},{"sp":"A. longiremis","st":"44","d":"20-200"},{"sp":"A. longiremis","st":"11","d":"2-20"},
{"sp":"A. longiremis","st":"26","d":"200-2000"},{"sp":"A. longiremis","st":"25","d":"20-200"},{"sp":"A. longiremis","st":"24","d":"20-200"},{"sp":"A. longiremis","st":"23","d":"20-200"},{"sp":"A. longiremis","st":"22","d":"20-200"},{"sp":"A. longiremis","st":"15","d":"20-200"},{"sp":"A. longiremis","st":"14","d":"20-200"},{"sp":"A. longiremis","st":"13","d":"20-200"},{"sp":"A. longiremis","st":"12","d":"20-200"},{"sp":"A. longiremis","st":"10","d":"20-200"},{"sp":"A. longiremis","st":"9","d":"0-2"},
{"sp":"A. longiremis","st":"107","d":"200-2000"},{"sp":"A. longiremis","st":"57","d":"200-2000"},{"sp":"A. longiremis","st":"21","d":"20-200"},{"sp":"A. longiremis","st":"20","d":"20-200"},{"sp":"A. longiremis","st":"19","d":"200-2000"},{"sp":"A. longiremis","st":"8","d":"20-200"},{"sp":"A. longiremis","st":"7","d":"200-2000"},
{"sp":"A. longiremis","st":"18","d":"200-2000"},{"sp":"A. longiremis","st":"17","d":"200-2000"},{"sp":"A. longiremis","st":"6","d":"200-2000"},

{"sp":"Oikopleura","st":"67","d":"200-2000"},{"sp":"Oikopleura","st":"66","d":"200-2000"},{"sp":"Oikopleura","st":"27","d":"2-20"},
{"sp":"Oikopleura","st":"106","d":"20-200"},{"sp":"Oikopleura","st":"89","d":"20-200"},{"sp":"Oikopleura","st":"85","d":"20-200"},{"sp":"Oikopleura","st":"80","d":"200-2000"},{"sp":"Oikopleura","st":"79","d":"200-2000"},{"sp":"Oikopleura","st":"74","d":"20-200"},{"sp":"Oikopleura","st":"62","d":"20-200"},{"sp":"Oikopleura","st":"58","d":"200-2000"},{"sp":"Oikopleura","st":"49","d":"20-200"},{"sp":"Oikopleura","st":"44","d":"20-200"},{"sp":"Oikopleura","st":"11","d":"2-20"},
{"sp":"Oikopleura","st":"26","d":"200-2000"},{"sp":"Oikopleura","st":"25","d":"20-200"},{"sp":"Oikopleura","st":"24","d":"2-20"},{"sp":"Oikopleura","st":"23","d":"20-200"},{"sp":"Oikopleura","st":"22","d":"20-200"},{"sp":"Oikopleura","st":"15","d":"200-2000"},{"sp":"Oikopleura","st":"14","d":"200-2000"},{"sp":"Oikopleura","st":"13","d":"2-20"},{"sp":"Oikopleura","st":"12","d":"20-200"},{"sp":"Oikopleura","st":"10","d":"20-200"},{"sp":"Oikopleura","st":"9","d":"20-200"},
{"sp":"Oikopleura","st":"107","d":"20-200"},{"sp":"Oikopleura","st":"57","d":"200-2000"},{"sp":"Oikopleura","st":"21","d":"20-200"},{"sp":"Oikopleura","st":"20","d":"20-200"},{"sp":"Oikopleura","st":"19","d":"20-200"},{"sp":"Oikopleura","st":"8","d":"20-200"},{"sp":"Oikopleura","st":"7","d":"2-20"},
{"sp":"Oikopleura","st":"18","d":"20-200"},{"sp":"Oikopleura","st":"17","d":"2-20"},{"sp":"Oikopleura","st":"6","d":"0-2"},

{"sp":"Barnacle nauplii","st":"67","d":"0-2"},{"sp":"Barnacle nauplii","st":"66","d":"200-2000"},{"sp":"Barnacle nauplii","st":"27","d":"20-200"},
{"sp":"Barnacle nauplii","st":"106","d":"2-20"},{"sp":"Barnacle nauplii","st":"89","d":"200-2000"},{"sp":"Barnacle nauplii","st":"85","d":"20-200"},{"sp":"Barnacle nauplii","st":"80","d":"20-200"},{"sp":"Barnacle nauplii","st":"79","d":"0-2"},{"sp":"Barnacle nauplii","st":"74","d":"20-200"},{"sp":"Barnacle nauplii","st":"62","d":"20-200"},{"sp":"Barnacle nauplii","st":"58","d":"0-2"},{"sp":"Barnacle nauplii","st":"49","d":"20-200"},{"sp":"Barnacle nauplii","st":"44","d":"20-200"},{"sp":"Barnacle nauplii","st":"11","d":"20-200"},
{"sp":"Barnacle nauplii","st":"26","d":"200-2000"},{"sp":"Barnacle nauplii","st":"25","d":"200-2000"},{"sp":"Barnacle nauplii","st":"24","d":"200-2000"},{"sp":"Barnacle nauplii","st":"23","d":"2000+"},{"sp":"Barnacle nauplii","st":"22","d":"200-2000"},{"sp":"Barnacle nauplii","st":"15","d":"200-2000"},{"sp":"Barnacle nauplii","st":"14","d":"200-2000"},{"sp":"Barnacle nauplii","st":"13","d":"200-2000"},{"sp":"Barnacle nauplii","st":"12","d":"2000+"},{"sp":"Barnacle nauplii","st":"10","d":"200-2000"},{"sp":"Barnacle nauplii","st":"9","d":"200-2000"},
{"sp":"Barnacle nauplii","st":"107","d":"0-2"},{"sp":"Barnacle nauplii","st":"57","d":"2-20"},{"sp":"Barnacle nauplii","st":"21","d":"200-2000"},{"sp":"Barnacle nauplii","st":"20","d":"0-2"},{"sp":"Barnacle nauplii","st":"19","d":"20-200"},{"sp":"Barnacle nauplii","st":"8","d":"200-2000"},{"sp":"Barnacle nauplii","st":"7","d":"200-2000"},
{"sp":"Barnacle nauplii","st":"18","d":"200-2000"},{"sp":"Barnacle nauplii","st":"17","d":"0-2"},{"sp":"Barnacle nauplii","st":"6","d":"2000+"},

{"sp":"Pseudocalanus","st":"67","d":"2000+"},{"sp":"Pseudocalanus","st":"66","d":"2000+"},{"sp":"Pseudocalanus","st":"27","d":"200-2000"},
{"sp":"Pseudocalanus","st":"106","d":"200-2000"},{"sp":"Pseudocalanus","st":"89","d":"200-2000"},{"sp":"Pseudocalanus","st":"85","d":"200-2000"},{"sp":"Pseudocalanus","st":"80","d":"2000+"},{"sp":"Pseudocalanus","st":"79","d":"200-2000"},{"sp":"Pseudocalanus","st":"74","d":"200-2000"},{"sp":"Pseudocalanus","st":"62","d":"200-2000"},{"sp":"Pseudocalanus","st":"58","d":"200-2000"},{"sp":"Pseudocalanus","st":"49","d":"200-2000"},{"sp":"Pseudocalanus","st":"44","d":"200-2000"},{"sp":"Pseudocalanus","st":"11","d":"200-2000"},
{"sp":"Pseudocalanus","st":"26","d":"200-2000"},{"sp":"Pseudocalanus","st":"25","d":"200-2000"},{"sp":"Pseudocalanus","st":"24","d":"200-2000"},{"sp":"Pseudocalanus","st":"23","d":"200-2000"},{"sp":"Pseudocalanus","st":"22","d":"200-2000"},{"sp":"Pseudocalanus","st":"15","d":"200-2000"},{"sp":"Pseudocalanus","st":"14","d":"20-200"},{"sp":"Pseudocalanus","st":"13","d":"200-2000"},{"sp":"Pseudocalanus","st":"12","d":"200-2000"},{"sp":"Pseudocalanus","st":"10","d":"200-2000"},{"sp":"Pseudocalanus","st":"9","d":"200-2000"},
{"sp":"Pseudocalanus","st":"107","d":"200-2000"},{"sp":"Pseudocalanus","st":"57","d":"200-2000"},{"sp":"Pseudocalanus","st":"21","d":"2000+"},{"sp":"Pseudocalanus","st":"20","d":"200-2000"},{"sp":"Pseudocalanus","st":"19","d":"200-2000"},{"sp":"Pseudocalanus","st":"8","d":"2000+"},{"sp":"Pseudocalanus","st":"7","d":"200-2000"},
{"sp":"Pseudocalanus","st":"18","d":"200-2000"},{"sp":"Pseudocalanus","st":"17","d":"2000+"},{"sp":"Pseudocalanus","st":"6","d":"2000+"},

{"sp":"Oithona","st":"67","d":"200-2000"},{"sp":"Oithona","st":"66","d":"200-2000"},{"sp":"Oithona","st":"27","d":"200-2000"},
{"sp":"Oithona","st":"106","d":"200-2000"},{"sp":"Oithona","st":"89","d":"20-200"},{"sp":"Oithona","st":"85","d":"20-200"},{"sp":"Oithona","st":"80","d":"200-2000"},{"sp":"Oithona","st":"79","d":"200-2000"},{"sp":"Oithona","st":"74","d":"20-200"},{"sp":"Oithona","st":"62","d":"200-2000"},{"sp":"Oithona","st":"58","d":"20-200"},{"sp":"Oithona","st":"49","d":"200-2000"},{"sp":"Oithona","st":"44","d":"20-200"},{"sp":"Oithona","st":"11","d":"0-2"},
{"sp":"Oithona","st":"26","d":"200-2000"},{"sp":"Oithona","st":"25","d":"0-2"},{"sp":"Oithona","st":"24","d":"20-200"},{"sp":"Oithona","st":"23","d":"20-200"},{"sp":"Oithona","st":"22","d":"200-2000"},{"sp":"Oithona","st":"15","d":"20-200"},{"sp":"Oithona","st":"14","d":"2-20"},{"sp":"Oithona","st":"13","d":"2-20"},{"sp":"Oithona","st":"12","d":"0-2"},{"sp":"Oithona","st":"10","d":"0-2"},{"sp":"Oithona","st":"9","d":"200-2000"},
{"sp":"Oithona","st":"107","d":"200-2000"},{"sp":"Oithona","st":"57","d":"200-2000"},{"sp":"Oithona","st":"21","d":"200-2000"},{"sp":"Oithona","st":"20","d":"200-2000"},{"sp":"Oithona","st":"19","d":"200-2000"},{"sp":"Oithona","st":"8","d":"200-2000"},{"sp":"Oithona","st":"7","d":"2000+"},
{"sp":"Oithona","st":"18","d":"2000+"},{"sp":"Oithona","st":"17","d":"2000+"},{"sp":"Oithona","st":"6","d":"2000+"},

{"sp":"Centropages","st":"67","d":"0-2"},{"sp":"Centropages","st":"66","d":"0-2"},{"sp":"Centropages","st":"27","d":"0-2"},
{"sp":"Centropages","st":"106","d":"0-2"},{"sp":"Centropages","st":"89","d":"0-2"},{"sp":"Centropages","st":"85","d":"0-2"},{"sp":"Centropages","st":"80","d":"0-2"},{"sp":"Centropages","st":"79","d":"2-20"},{"sp":"Centropages","st":"74","d":"0-2"},{"sp":"Centropages","st":"62","d":"0-2"},{"sp":"Centropages","st":"58","d":"20-200"},{"sp":"Centropages","st":"49","d":"0-2"},{"sp":"Centropages","st":"44","d":"0-2"},{"sp":"Centropages","st":"11","d":"0-2"},
{"sp":"Centropages","st":"26","d":"20-200"},{"sp":"Centropages","st":"25","d":"2-20"},{"sp":"Centropages","st":"24","d":"20-200"},{"sp":"Centropages","st":"23","d":"0-2"},{"sp":"Centropages","st":"22","d":"20-200"},{"sp":"Centropages","st":"15","d":"20-200"},{"sp":"Centropages","st":"14","d":"20-200"},{"sp":"Centropages","st":"13","d":"0-2"},{"sp":"Centropages","st":"12","d":"2-20"},{"sp":"Centropages","st":"10","d":"2-20"},{"sp":"Centropages","st":"9","d":"0-2"},
{"sp":"Centropages","st":"107","d":"200-2000"},{"sp":"Centropages","st":"57","d":"200-2000"},{"sp":"Centropages","st":"21","d":"20-200"},{"sp":"Centropages","st":"20","d":"20-200"},{"sp":"Centropages","st":"19","d":"20-200"},{"sp":"Centropages","st":"8","d":"20-200"},{"sp":"Centropages","st":"7","d":"20-200"},
{"sp":"Centropages","st":"18","d":"200-2000"},{"sp":"Centropages","st":"17","d":"2000+"},{"sp":"Centropages","st":"6","d":"20-200"},

{"sp":"Aglantha","st":"67","d":"0-2"},{"sp":"Aglantha","st":"66","d":"0-2"},{"sp":"Aglantha","st":"27","d":"0-2"},
{"sp":"Aglantha","st":"106","d":"0-2"},{"sp":"Aglantha","st":"89","d":"0-2"},{"sp":"Aglantha","st":"85","d":"0-2"},{"sp":"Aglantha","st":"80","d":"0-2"},{"sp":"Aglantha","st":"79","d":"0-2"},{"sp":"Aglantha","st":"74","d":"0-2"},{"sp":"Aglantha","st":"62","d":"0-2"},{"sp":"Aglantha","st":"58","d":"0-2"},{"sp":"Aglantha","st":"49","d":"0-2"},{"sp":"Aglantha","st":"44","d":"0-2"},{"sp":"Aglantha","st":"11","d":"0-2"},
{"sp":"Aglantha","st":"26","d":"0-2"},{"sp":"Aglantha","st":"25","d":"0-2"},{"sp":"Aglantha","st":"24","d":"0-2"},{"sp":"Aglantha","st":"23","d":"0-2"},{"sp":"Aglantha","st":"22","d":"0-2"},{"sp":"Aglantha","st":"15","d":"0-2"},{"sp":"Aglantha","st":"14","d":"0-2"},{"sp":"Aglantha","st":"13","d":"0-2"},{"sp":"Aglantha","st":"12","d":"0-2"},{"sp":"Aglantha","st":"10","d":"0-2"},{"sp":"Aglantha","st":"9","d":"0-2"},
{"sp":"Aglantha","st":"107","d":"20-200"},{"sp":"Aglantha","st":"57","d":"20-200"},{"sp":"Aglantha","st":"21","d":"0-2"},{"sp":"Aglantha","st":"20","d":"2-20"},{"sp":"Aglantha","st":"19","d":"2-20"},{"sp":"Aglantha","st":"8","d":"2-20"},{"sp":"Aglantha","st":"7","d":"20-200"},
{"sp":"Aglantha","st":"18","d":"2-20"},{"sp":"Aglantha","st":"17","d":"2-20"},{"sp":"Aglantha","st":"6","d":"2-20"},

{"sp":"Echinoderm larvae","st":"67","d":"0-2"},{"sp":"Echinoderm larvae","st":"66","d":"0-2"},{"sp":"Echinoderm larvae","st":"27","d":"0-2"},
{"sp":"Echinoderm larvae","st":"106","d":"0-2"},{"sp":"Echinoderm larvae","st":"89","d":"0-2"},{"sp":"Echinoderm larvae","st":"85","d":"0-2"},{"sp":"Echinoderm larvae","st":"80","d":"0-2"},{"sp":"Echinoderm larvae","st":"79","d":"0-2"},{"sp":"Echinoderm larvae","st":"74","d":"0-2"},{"sp":"Echinoderm larvae","st":"62","d":"0-2"},{"sp":"Echinoderm larvae","st":"58","d":"0-2"},{"sp":"Echinoderm larvae","st":"49","d":"0-2"},{"sp":"Echinoderm larvae","st":"44","d":"0-2"},{"sp":"Echinoderm larvae","st":"11","d":"0-2"},
{"sp":"Echinoderm larvae","st":"26","d":"0-2"},{"sp":"Echinoderm larvae","st":"25","d":"0-2"},{"sp":"Echinoderm larvae","st":"24","d":"0-2"},{"sp":"Echinoderm larvae","st":"23","d":"0-2"},{"sp":"Echinoderm larvae","st":"22","d":"0-2"},{"sp":"Echinoderm larvae","st":"15","d":"0-2"},{"sp":"Echinoderm larvae","st":"14","d":"0-2"},{"sp":"Echinoderm larvae","st":"13","d":"0-2"},{"sp":"Echinoderm larvae","st":"12","d":"0-2"},{"sp":"Echinoderm larvae","st":"10","d":"0-2"},{"sp":"Echinoderm larvae","st":"9","d":"0-2"},
{"sp":"Echinoderm larvae","st":"107","d":"0-2"},{"sp":"Echinoderm larvae","st":"57","d":"0-2"},{"sp":"Echinoderm larvae","st":"21","d":"0-2"},{"sp":"Echinoderm larvae","st":"20","d":"20-200"},{"sp":"Echinoderm larvae","st":"19","d":"200-2000"},{"sp":"Echinoderm larvae","st":"8","d":"20-200"},{"sp":"Echinoderm larvae","st":"7","d":"0-2"},
{"sp":"Echinoderm larvae","st":"18","d":"2000+"},{"sp":"Echinoderm larvae","st":"17","d":"2000+"},{"sp":"Echinoderm larvae","st":"6","d":"2000+"},

{"sp":"Eurytemora","st":"67","d":"0-2"},{"sp":"Eurytemora","st":"66","d":"0-2"},{"sp":"Eurytemora","st":"27","d":"0-2"},
{"sp":"Eurytemora","st":"106","d":"0-2"},{"sp":"Eurytemora","st":"89","d":"0-2"},{"sp":"Eurytemora","st":"85","d":"0-2"},{"sp":"Eurytemora","st":"80","d":"20-200"},{"sp":"Eurytemora","st":"79","d":"0-2"},{"sp":"Eurytemora","st":"74","d":"0-2"},{"sp":"Eurytemora","st":"62","d":"0-2"},{"sp":"Eurytemora","st":"58","d":"0-2"},{"sp":"Eurytemora","st":"49","d":"0-2"},{"sp":"Eurytemora","st":"44","d":"0-2"},{"sp":"Eurytemora","st":"11","d":"0-2"},
{"sp":"Eurytemora","st":"26","d":"0-2"},{"sp":"Eurytemora","st":"25","d":"0-2"},{"sp":"Eurytemora","st":"24","d":"2-20"},{"sp":"Eurytemora","st":"23","d":"0-2"},{"sp":"Eurytemora","st":"22","d":"2-20"},{"sp":"Eurytemora","st":"15","d":"0-2"},{"sp":"Eurytemora","st":"14","d":"0-2"},{"sp":"Eurytemora","st":"13","d":"0-2"},{"sp":"Eurytemora","st":"12","d":"0-2"},{"sp":"Eurytemora","st":"10","d":"2-20"},{"sp":"Eurytemora","st":"9","d":"0-2"},
{"sp":"Eurytemora","st":"107","d":"0-2"},{"sp":"Eurytemora","st":"57","d":"2-20"},{"sp":"Eurytemora","st":"21","d":"0-2"},{"sp":"Eurytemora","st":"20","d":"0-2"},{"sp":"Eurytemora","st":"19","d":"0-2"},{"sp":"Eurytemora","st":"8","d":"0-2"},{"sp":"Eurytemora","st":"7","d":"0-2"},
{"sp":"Eurytemora","st":"18","d":"20-200"},{"sp":"Eurytemora","st":"17","d":"20-200"},{"sp":"Eurytemora","st":"6","d":"2-20"},

{"sp":"Bivalve larvae","st":"67","d":"0-2"},{"sp":"Bivalve larvae","st":"66","d":"0-2"},{"sp":"Bivalve larvae","st":"27","d":"0-2"},
{"sp":"Bivalve larvae","st":"106","d":"0-2"},{"sp":"Bivalve larvae","st":"89","d":"0-2"},{"sp":"Bivalve larvae","st":"85","d":"0-2"},{"sp":"Bivalve larvae","st":"80","d":"0-2"},{"sp":"Bivalve larvae","st":"79","d":"0-2"},{"sp":"Bivalve larvae","st":"74","d":"0-2"},{"sp":"Bivalve larvae","st":"62","d":"0-2"},{"sp":"Bivalve larvae","st":"58","d":"0-2"},{"sp":"Bivalve larvae","st":"49","d":"0-2"},{"sp":"Bivalve larvae","st":"44","d":"0-2"},{"sp":"Bivalve larvae","st":"11","d":"0-2"},
{"sp":"Bivalve larvae","st":"26","d":"0-2"},{"sp":"Bivalve larvae","st":"25","d":"0-2"},{"sp":"Bivalve larvae","st":"24","d":"0-2"},{"sp":"Bivalve larvae","st":"23","d":"0-2"},{"sp":"Bivalve larvae","st":"22","d":"0-2"},{"sp":"Bivalve larvae","st":"15","d":"0-2"},{"sp":"Bivalve larvae","st":"14","d":"0-2"},{"sp":"Bivalve larvae","st":"13","d":"0-2"},{"sp":"Bivalve larvae","st":"12","d":"0-2"},{"sp":"Bivalve larvae","st":"10","d":"0-2"},{"sp":"Bivalve larvae","st":"9","d":"0-2"},
{"sp":"Bivalve larvae","st":"107","d":"0-2"},{"sp":"Bivalve larvae","st":"57","d":"0-2"},{"sp":"Bivalve larvae","st":"21","d":"0-2"},{"sp":"Bivalve larvae","st":"20","d":"0-2"},{"sp":"Bivalve larvae","st":"19","d":"0-2"},{"sp":"Bivalve larvae","st":"8","d":"0-2"},{"sp":"Bivalve larvae","st":"7","d":"0-2"},
{"sp":"Bivalve larvae","st":"18","d":"2000+"},{"sp":"Bivalve larvae","st":"17","d":"200-2000"},{"sp":"Bivalve larvae","st":"6","d":"200-2000"},

{"sp":"A. hudsonica","st":"67","d":"0-2"},{"sp":"A. hudsonica","st":"66","d":"0-2"},{"sp":"A. hudsonica","st":"27","d":"0-2"},
{"sp":"A. hudsonica","st":"106","d":"0-2"},{"sp":"A. hudsonica","st":"89","d":"0-2"},{"sp":"A. hudsonica","st":"85","d":"0-2"},{"sp":"A. hudsonica","st":"80","d":"0-2"},{"sp":"A. hudsonica","st":"79","d":"0-2"},{"sp":"A. hudsonica","st":"74","d":"0-2"},{"sp":"A. hudsonica","st":"62","d":"0-2"},{"sp":"A. hudsonica","st":"58","d":"0-2"},{"sp":"A. hudsonica","st":"49","d":"0-2"},{"sp":"A. hudsonica","st":"44","d":"0-2"},{"sp":"A. hudsonica","st":"11","d":"0-2"},
{"sp":"A. hudsonica","st":"26","d":"0-2"},{"sp":"A. hudsonica","st":"25","d":"0-2"},{"sp":"A. hudsonica","st":"24","d":"0-2"},{"sp":"A. hudsonica","st":"23","d":"0-2"},{"sp":"A. hudsonica","st":"22","d":"2-20"},{"sp":"A. hudsonica","st":"15","d":"0-2"},{"sp":"A. hudsonica","st":"14","d":"0-2"},{"sp":"A. hudsonica","st":"13","d":"0-2"},{"sp":"A. hudsonica","st":"12","d":"0-2"},{"sp":"A. hudsonica","st":"10","d":"0-2"},{"sp":"A. hudsonica","st":"9","d":"0-2"},
{"sp":"A. hudsonica","st":"107","d":"0-2"},{"sp":"A. hudsonica","st":"57","d":"0-2"},{"sp":"A. hudsonica","st":"21","d":"0-2"},{"sp":"A. hudsonica","st":"20","d":"0-2"},{"sp":"A. hudsonica","st":"19","d":"0-2"},{"sp":"A. hudsonica","st":"8","d":"0-2"},{"sp":"A. hudsonica","st":"7","d":"0-2"},
{"sp":"A. hudsonica","st":"18","d":"20-200"},{"sp":"A. hudsonica","st":"17","d":"20-200"},{"sp":"A. hudsonica","st":"6","d":"2-20"},

{"sp":"Evadne","st":"67","d":"0-2"},{"sp":"Evadne","st":"66","d":"0-2"},{"sp":"Evadne","st":"27","d":"0-2"},
{"sp":"Evadne","st":"106","d":"0-2"},{"sp":"Evadne","st":"89","d":"0-2"},{"sp":"Evadne","st":"85","d":"0-2"},{"sp":"Evadne","st":"80","d":"0-2"},{"sp":"Evadne","st":"79","d":"0-2"},{"sp":"Evadne","st":"74","d":"0-2"},{"sp":"Evadne","st":"62","d":"0-2"},{"sp":"Evadne","st":"58","d":"0-2"},{"sp":"Evadne","st":"49","d":"0-2"},{"sp":"Evadne","st":"44","d":"0-2"},{"sp":"Evadne","st":"11","d":"0-2"},
{"sp":"Evadne","st":"26","d":"0-2"},{"sp":"Evadne","st":"25","d":"0-2"},{"sp":"Evadne","st":"24","d":"0-2"},{"sp":"Evadne","st":"23","d":"0-2"},{"sp":"Evadne","st":"22","d":"0-2"},{"sp":"Evadne","st":"15","d":"0-2"},{"sp":"Evadne","st":"14","d":"0-2"},{"sp":"Evadne","st":"13","d":"0-2"},{"sp":"Evadne","st":"12","d":"0-2"},{"sp":"Evadne","st":"10","d":"0-2"},{"sp":"Evadne","st":"9","d":"0-2"},
{"sp":"Evadne","st":"107","d":"0-2"},{"sp":"Evadne","st":"57","d":"0-2"},{"sp":"Evadne","st":"21","d":"0-2"},{"sp":"Evadne","st":"20","d":"0-2"},{"sp":"Evadne","st":"19","d":"0-2"},{"sp":"Evadne","st":"8","d":"0-2"},{"sp":"Evadne","st":"7","d":"0-2"},
{"sp":"Evadne","st":"18","d":"20-200"},{"sp":"Evadne","st":"17","d":"20-200"},{"sp":"Evadne","st":"6","d":"200-2000"},

{"sp":"Podon","st":"67","d":"0-2"},{"sp":"Podon","st":"66","d":"0-2"},{"sp":"Podon","st":"27","d":"0-2"},
{"sp":"Podon","st":"106","d":"0-2"},{"sp":"Podon","st":"89","d":"0-2"},{"sp":"Podon","st":"85","d":"0-2"},{"sp":"Podon","st":"80","d":"0-2"},{"sp":"Podon","st":"79","d":"0-2"},{"sp":"Podon","st":"74","d":"0-2"},{"sp":"Podon","st":"62","d":"0-2"},{"sp":"Podon","st":"58","d":"0-2"},{"sp":"Podon","st":"49","d":"0-2"},{"sp":"Podon","st":"44","d":"0-2"},{"sp":"Podon","st":"11","d":"0-2"},
{"sp":"Podon","st":"26","d":"0-2"},{"sp":"Podon","st":"25","d":"0-2"},{"sp":"Podon","st":"24","d":"0-2"},{"sp":"Podon","st":"23","d":"0-2"},{"sp":"Podon","st":"22","d":"0-2"},{"sp":"Podon","st":"15","d":"0-2"},{"sp":"Podon","st":"14","d":"0-2"},{"sp":"Podon","st":"13","d":"0-2"},{"sp":"Podon","st":"12","d":"0-2"},{"sp":"Podon","st":"10","d":"0-2"},{"sp":"Podon","st":"9","d":"0-2"},
{"sp":"Podon","st":"107","d":"0-2"},{"sp":"Podon","st":"57","d":"0-2"},{"sp":"Podon","st":"21","d":"0-2"},{"sp":"Podon","st":"20","d":"0-2"},{"sp":"Podon","st":"19","d":"0-2"},{"sp":"Podon","st":"8","d":"0-2"},{"sp":"Podon","st":"7","d":"0-2"},
{"sp":"Podon","st":"18","d":"20-200"},{"sp":"Podon","st":"17","d":"200-2000"},{"sp":"Podon","st":"6","d":"200-2000"}
]},
"layer": [
{
"mark": {"type": "rect", "cornerRadius": 1.5, "stroke": "#2b2b2b", "strokeWidth": 1},
"encoding": {
"x": {"field": "st", "type": "ordinal", "sort": null,
 "scale": {"domain": ["67","_a","66","27","_b","106","89","85","80","79","74","62","58","49","44","11","_c","26","25","24","23","22","15","14","13","12","10","9","_d","107","57","21","20","19","8","7","_e","18","17","6"], "paddingInner": 0, "paddingOuter": 0.45},
 "axis": {"orient": "bottom", "title": null, "zindex": 0, "bandPosition": 0.5, "labelAngle": -90, "labelAlign": "right", "labelBaseline": "middle", "labelFontSize": 14, "labelFontWeight": "bold", "labelColor": "black", "labelPadding": 23, "ticks": false, "tickSize": 0, "domain": false, "grid": true, "gridColor": "#c8c8c8", "gridWidth": 1, "labelOverlap": false, "labelExpr": "indexof(datum.value,'_')==0 ? '' : datum.value"}},
"y": {"field": "sp", "type": "ordinal", "sort": null,
 "scale": {"domain": ["Rathkea","_1","N. plumchrus","Eucalanus","Euphausiid larvae","_2","P. acuspes","Microcalanus","N. flemingeri","_3","Microsetella","_4","Metridia","P. minutus","Oncaea","_5","Fritillaria","Calanus","Parasagitta","_6","P. newmani","Polychaete larvae","Barnacle cypris","A. longiremis","Oikopleura","Barnacle nauplii","Pseudocalanus","Oithona","_7","Centropages","_8","Aglantha","_9","Echinoderm larvae","_10","Eurytemora","Bivalve larvae","A. hudsonica","Evadne","Podon"], "paddingInner": 0, "paddingOuter": 0.45},
 "axis": {"orient": "right", "title": null, "zindex": 0, "bandPosition": 0.5, "labelAlign": "left", "labelBaseline": "middle", "labelFontSize": 15, "labelFontWeight": "bold", "labelFontStyle": "italic", "labelColor": "black", "labelPadding": 20, "ticks": false, "tickSize": 0, "domain": false, "grid": true, "gridColor": "#c8c8c8", "gridWidth": 1, "labelOverlap": false, "labelExpr": "indexof(datum.value,'_')==0 ? '' : datum.value"}},
"color": {"field": "d", "type": "ordinal",
 "scale": {"domain": ["2000+","200-2000","20-200","2-20","0-2"], "range": ["#f00000","#f5780a","#ffff00","#14e614","#0a0ae6"]},
 "legend": {"orient": "none", "legendX": 688, "legendY": 616, "title": null, "symbolSize": 0, "symbolOpacity": 0, "symbolStrokeWidth": 0, "labelOffset": 0, "labelFontSize": 17, "labelFontWeight": "bold", "labelColor": "black", "rowPadding": 10, "labelExpr": "datum.label + ' m⁻³'"}}
}
},
{
"mark": {"type": "rect", "opacity": 0},
"encoding": {
"x": {"field": "st", "type": "ordinal", "sort": null,
 "scale": {"domain": ["67","_a","66","27","_b","106","89","85","80","79","74","62","58","49","44","11","_c","26","25","24","23","22","15","14","13","12","10","9","_d","107","57","21","20","19","8","7","_e","18","17","6"], "paddingInner": 0, "paddingOuter": 0.45},
 "axis": {"orient": "bottom", "title": null, "labelAngle": -90, "labelAlign": "left", "labelBaseline": "middle", "labelFontSize": 20, "labelColor": "black", "labelPadding": 143, "labelLineHeight": 25, "ticks": false, "tickSize": 0, "domain": false, "grid": false, "labelOverlap": false,
  "labelOffset": {"condition": [{"test": "datum.value=='67'", "value": 7}, {"test": "datum.value=='79'", "value": -2}, {"test": "datum.value=='23'", "value": 4}, {"test": "datum.value=='18'", "value": 2}], "value": 0},
  "labelExpr": "datum.value=='67' ? ['Resident','Chukchi'] : datum.value=='79' ? ['Winter','Water'] : datum.value=='23' ? ['Bering','Sea','Water'] : datum.value=='21' ? ['Trans-','itional'] : datum.value=='18' ? ['Alaska','Coastal'] : ''"}},
"y": {"field": "sp", "type": "ordinal", "sort": null,
 "scale": {"domain": ["Rathkea","_1","N. plumchrus","Eucalanus","Euphausiid larvae","_2","P. acuspes","Microcalanus","N. flemingeri","_3","Microsetella","_4","Metridia","P. minutus","Oncaea","_5","Fritillaria","Calanus","Parasagitta","_6","P. newmani","Polychaete larvae","Barnacle cypris","A. longiremis","Oikopleura","Barnacle nauplii","Pseudocalanus","Oithona","_7","Centropages","_8","Aglantha","_9","Echinoderm larvae","_10","Eurytemora","Bivalve larvae","A. hudsonica","Evadne","Podon"], "paddingInner": 0, "paddingOuter": 0.45},
 "axis": {"orient": "left", "title": "Species clusters", "titleFontSize": 23, "titleFontWeight": "bold", "titleColor": "black", "titlePadding": 10, "labels": false, "ticks": false, "tickSize": 0, "domain": false, "grid": false}}
}
},
{
"mark": {"type": "rect", "opacity": 0},
"encoding": {
"x": {"field": "st", "type": "ordinal", "sort": null,
 "scale": {"domain": ["67","_a","66","27","_b","106","89","85","80","79","74","62","58","49","44","11","_c","26","25","24","23","22","15","14","13","12","10","9","_d","107","57","21","20","19","8","7","_e","18","17","6"], "paddingInner": 0, "paddingOuter": 0.45},
 "axis": null},
"y": {"field": "sp", "type": "ordinal", "sort": null,
 "scale": {"domain": ["Rathkea","_1","N. plumchrus","Eucalanus","Euphausiid larvae","_2","P. acuspes","Microcalanus","N. flemingeri","_3","Microsetella","_4","Metridia","P. minutus","Oncaea","_5","Fritillaria","Calanus","Parasagitta","_6","P. newmani","Polychaete larvae","Barnacle cypris","A. longiremis","Oikopleura","Barnacle nauplii","Pseudocalanus","Oithona","_7","Centropages","_8","Aglantha","_9","Echinoderm larvae","_10","Eurytemora","Bivalve larvae","A. hudsonica","Evadne","Podon"], "paddingInner": 0, "paddingOuter": 0.45},
 "axis": {"orient": "right", "title": null, "labelAlign": "left", "labelBaseline": "middle", "labelFontSize": 20, "labelColor": "black", "labelPadding": 194, "labelLineHeight": 26, "ticks": false, "tickSize": 0, "domain": false, "grid": false, "labelOverlap": false,
  "labelOffset": {"condition": [{"test": "datum.value=='Euphausiid larvae'", "value": 6}, {"test": "datum.value=='Oncaea'", "value": 2}, {"test": "datum.value=='_9'", "value": 2}, {"test": "datum.value=='A. hudsonica'", "value": -7}], "value": 0},
  "labelExpr": "datum.value=='Euphausiid larvae' ? ['Bering Sea,','Oceanic'] : datum.value=='Oncaea' ? ['Bering Sea,','Shelf'] : datum.value=='A. longiremis' ? ['Bering Sea,','Neritic/Shelf'] : datum.value=='_9' ? ['Bering Sea,','Neritic'] : datum.value=='A. hudsonica' ? ['Neritic,','Low salinity'] : ''"}}
}
}
],
"resolve": {"axis": {"x": "independent", "y": "independent"}}
}
